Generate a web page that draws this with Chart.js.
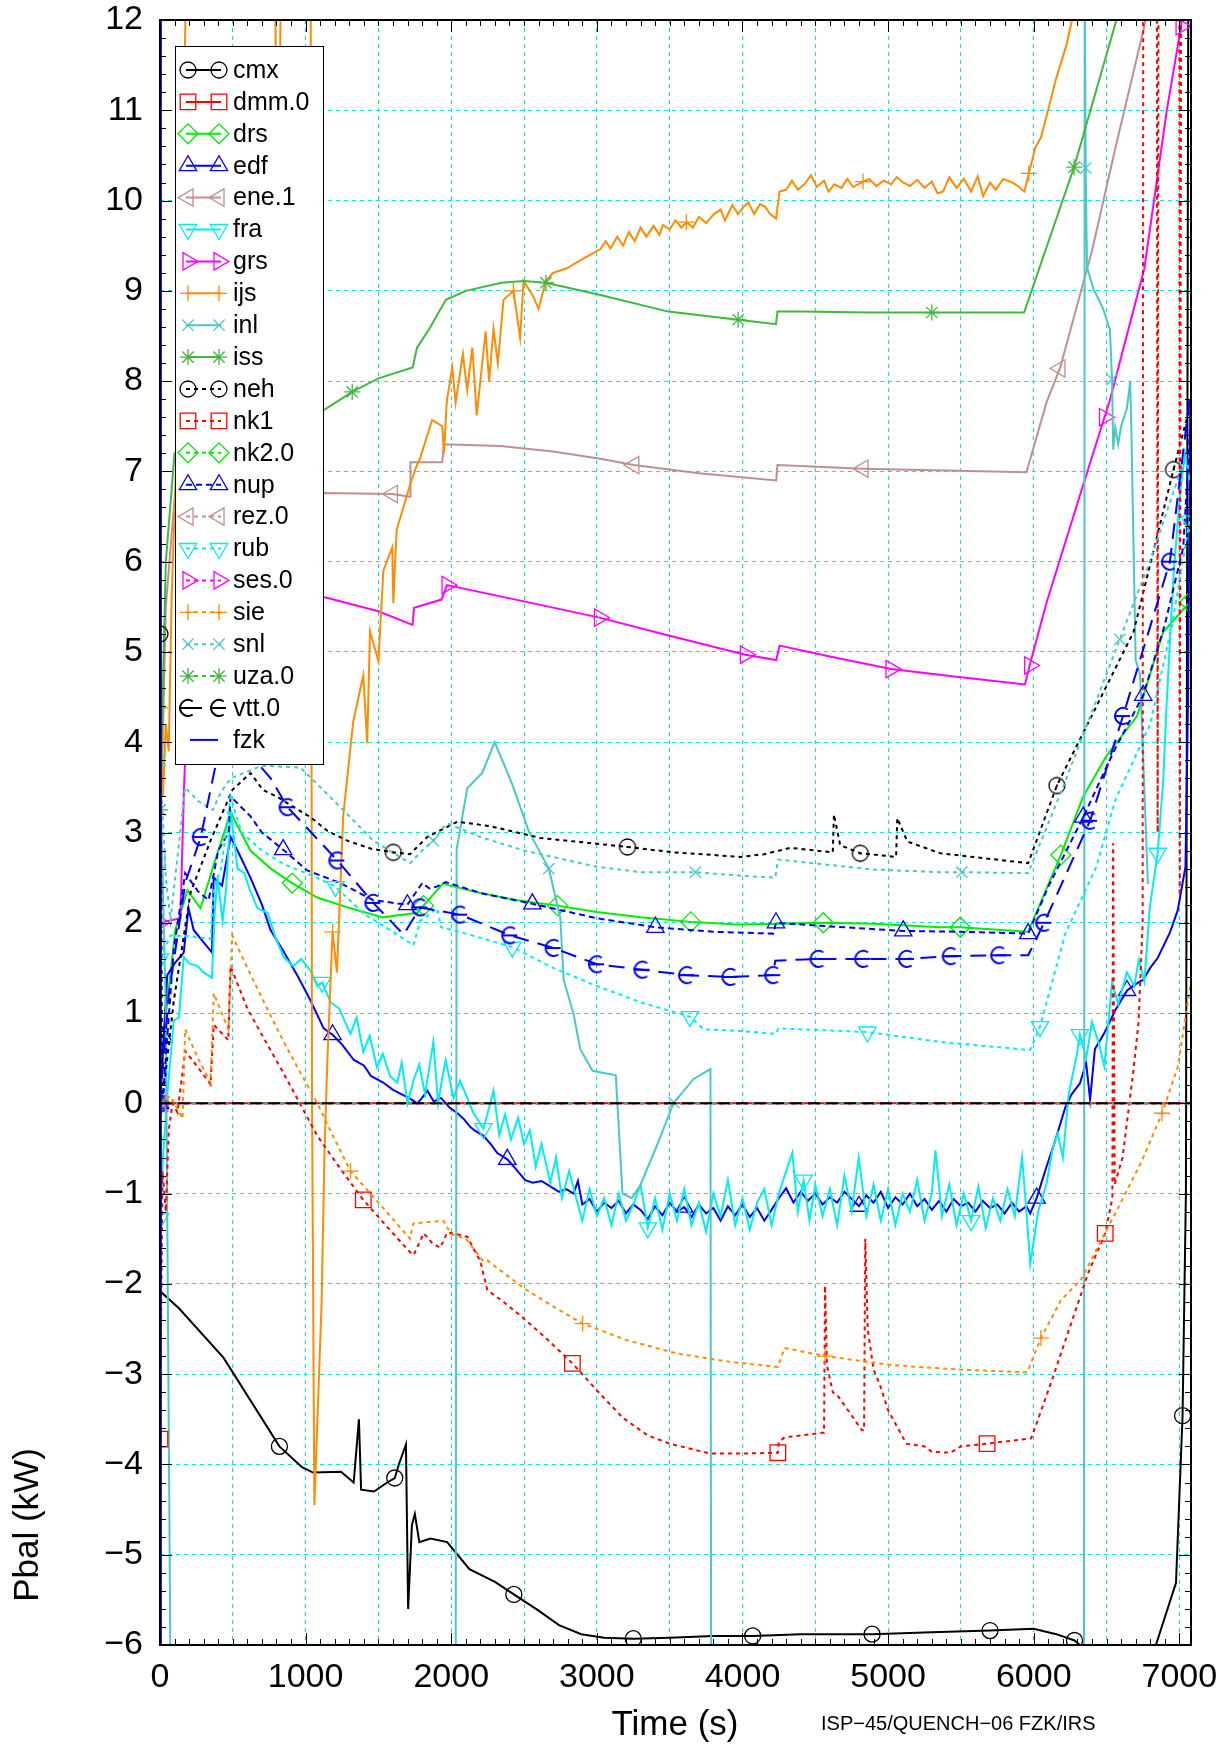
<!DOCTYPE html>
<html>
<head>
<meta charset="utf-8">
<script src="https://cdn.jsdelivr.net/npm/chart.js@4.4.1/dist/chart.umd.min.js"></script>
<style>
    html, body { margin: 0; padding: 0; background: #fff; }
    #area { width: 1220px; height: 1746px; }
</style>
</head>
<body>
<div id="area"><canvas id="grafico"></canvas></div>
<script>
// Pbal (kW) x Time (s) - cada código em um array [tempo, potência]
const cmx = [[0,-2.08],[130,-2.27],[437,-2.82],[820,-3.8],[975,-4.03],[1051,-4.09],[1243,-4.08],[1330,-4.2],[1366,-3.5],[1381,-4.28],[1470,-4.3],[1560,-4.2],[1612,-4.15],[1640,-4.0],[1689,-3.78],[1704,-5.6],[1730,-4.67],[1750,-4.55],[1781,-4.86],[1857,-4.82],[1972,-4.86],[2125,-5.16],[2300,-5.3],[2430,-5.44],[2600,-5.62],[2740,-5.78],[2893,-5.88],[3050,-5.92],[3250,-5.93],[3500,-5.92],[3800,-5.9],[4070,-5.9],[4400,-5.88],[4890,-5.88],[5300,-5.86],[5700,-5.84],[6000,-5.82],[6155,-5.88],[6280,-5.95],[6354,-6.05],[6800,-6.2],[6833,-6.03],[6977,-5.31],[7022,-3.46],[7045,-1],[7062,13]];
const cmxMarcas = [820,1612,2430,3250,4070,4890,5700,6280,7022];

const dmm0 = [[0,0],[7080,0]];
const dmm0Marcas = [0];

const drs = [[0,0],[36,0.92],[105,1.92],[189,2.36],[278,2.16],[380,2.7],[485,3.22],[621,2.8],[760,2.6],[908,2.44],[1080,2.28],[1308,2.16],[1533,2.06],[1766,2.11],[1810,2.19],[1946,2.44],[1973,2.42],[2200,2.33],[2450,2.25],[2730,2.19],[3000,2.12],[3300,2.06],[3645,2.01],[3965,1.98],[4250,1.99],[4555,2.0],[4900,1.99],[5359,1.95],[5496,1.95],[5962,1.9],[6186,2.75],[6340,3.4],[6500,3.85],[6710,4.29],[6889,5.22],[7070,5.55]];
const drsMarcas = [0,908,1810,2730,3645,4555,5496,6186,7070];

const edf = [[0,0],[25,0.73],[50,1.42],[100,1.55],[163,1.67],[196,2.16],[231,1.92],[357,1.67],[369,2.5],[426,2.41],[485,2.95],[532,2.8],[621,2.5],[700,2.2],[759,1.92],[850,1.68],[942,1.42],[1030,1.15],[1124,0.83],[1185,0.76],[1251,0.65],[1331,0.48],[1400,0.42],[1450,0.3],[1533,0.23],[1600,0.15],[1671,0.09],[1720,0.05],[1766,0.0],[1800,0.06],[1836,0.14],[1880,0.02],[1930,0.06],[1990,-0.05],[2043,-0.11],[2090,-0.18],[2130,-0.26],[2160,-0.3],[2221,-0.36],[2270,-0.45],[2316,-0.55],[2385,-0.62],[2440,-0.72],[2508,-0.85],[2560,-0.88],[2620,-0.86],[2680,-0.92],[2740,-0.98],[2790,-0.95],[2840,-1.0],[2870,-0.86],
    [2900,-1.12],[2950,-1.06],[3000,-1.2],[3050,-1.1],[3100,-1.16],[3150,-1.08],[3200,-1.22],[3250,-1.12],[3300,-1.18],[3350,-1.28],[3400,-1.14],[3450,-1.24],[3500,-1.1],[3550,-1.2],[3600,-1.15],[3650,-1.26],[3700,-1.12],[3750,-1.22],[3800,-1.16],[3850,-1.3],[3900,-1.14],[3950,-1.24],[4000,-1.12],[4050,-1.26],[4100,-1.16],[4150,-1.3],[4200,-1.18],[4250,-1.05],[4300,-0.94],[4350,-1.1],[4400,-0.98],[4450,-1.08],[4500,-1.0],[4550,-1.12],[4600,-1.04],[4650,-1.1],[4700,-0.98],[4750,-1.06],[4800,-1.14],[4850,-1.02],[4900,-1.1],[4950,-0.98],[5000,-1.16],[5050,-1.04],[5100,-1.12],[5150,-1.0],[5200,-1.14],[5250,-1.06],[5300,-1.18],[5350,-1.08],[5400,-1.2],[5450,-1.06],[5500,-1.14],[5550,-1.1],[5600,-1.2],[5650,-1.08],[5700,-1.16],[5750,-1.12],[5800,-1.22],[5850,-1.1],[5900,-1.2],[5950,-1.14],
    [5976,-1.22],[6020,-1.05],[6088,-0.7],[6140,-0.45],[6218,-0.04],[6260,0.1],[6317,0.22],[6360,0.45],[6387,0.04],[6420,0.6],[6485,0.78],[6560,1.03],[6641,1.25],[6700,1.32],[6752,1.37],[6800,1.5],[6851,1.61],[6935,1.89],[6989,2.14],[7042,2.62],[7060,4.5],[7075,7.8]];
const edfMarcas = [25,1185,2385,3600,4800,6020,6641];

const ene1 = [[0,2.7],[40,5.5],[100,6.7],[600,6.75],[1121,6.76],[1596,6.75],[1717,6.72],[1720,7.1],[1938,7.1],[1950,7.3],[2338,7.28],[2700,7.22],[3023,7.14],[3254,7.07],[3700,6.98],[4232,6.9],[4240,7.07],[4828,7.03],[5400,7.01],[5950,6.99],[6089,7.77],[6180,8.14],[6401,9.45],[6562,10.59],[6760,11.93],[6780,12.2]];
const ene1Marcas = [0,1596,3254,4828,6180];

const fra = [[0,-1.28],[20,-0.6],[52,0.13],[95,0.92],[130,0.95],[163,1.62],[200,1.55],[258,1.52],[300,1.45],[357,1.39],[375,2.1],[395,2.5],[430,2.02],[455,2.4],[485,3.25],[532,2.6],[580,2.55],[620,2.35],[670,2.16],[739,2.11],[790,1.85],[850,1.62],[915,1.52],[970,1.6],[1033,1.47],[1080,1.3],[1114,1.34],[1171,1.12],[1230,1.05],[1308,0.77],[1350,0.95],[1396,0.57],[1440,0.75],[1490,0.4],[1530,0.55],[1580,0.3],[1630,0.23],[1660,0.45],[1700,0.0],[1740,0.25],[1780,0.43],[1820,0.1],[1877,0.68],[1910,0.0],[1940,0.3],[1962,0.48],[2015,0.06],[2060,0.25],[2100,0.1],[2150,-0.1],[2221,-0.28],[2260,-0.05],[2290,0.14],[2330,-0.35],[2370,-0.12],[2410,-0.4],[2459,-0.16],[2500,-0.45],[2540,-0.3],[2580,-0.7],[2620,-0.45],[2680,-0.88],[2720,-0.6],[2760,-1.05],[2810,-0.75],[2863,-1.08],
    [2900,-1.3],[2950,-0.95],[3000,-1.25],[3050,-1.05],[3100,-1.35],[3150,-1.0],[3200,-1.3],[3250,-1.12],[3300,-0.9],[3350,-1.38],[3400,-1.05],[3450,-1.4],[3500,-1.0],[3550,-1.3],[3600,-0.95],[3650,-1.35],[3700,-1.1],[3750,-1.42],[3800,-1.0],[3850,-1.25],[3900,-0.85],[3950,-1.35],[4000,-1.05],[4050,-1.4],[4100,-1.1],[4150,-0.95],[4200,-1.35],[4250,-1.0],[4300,-0.75],[4342,-0.55],[4380,-1.2],[4420,-0.85],[4460,-1.3],[4500,-0.9],[4550,-1.25],[4600,-0.95],[4650,-1.35],[4700,-0.8],[4750,-1.2],[4798,-0.6],[4850,-1.25],[4900,-0.9],[4950,-1.3],[5000,-0.95],[5050,-1.35],[5100,-1.0],[5150,-1.2],[5200,-0.85],[5250,-1.3],[5300,-1.0],[5325,-0.52],[5370,-1.25],[5420,-0.9],[5470,-1.35],[5520,-1.0],[5570,-1.3],[5620,-0.92],[5670,-1.38],[5720,-1.05],[5770,-1.3],[5820,-0.95],[5870,-1.25],[5920,-0.6],[5950,-1.2],
    [5976,-1.78],[6030,-1.2],[6088,-0.89],[6130,-0.5],[6165,-0.33],[6200,-0.6],[6240,0.1],[6297,0.55],[6317,0.76],[6360,0.5],[6400,0.9],[6450,0.65],[6485,0.41],[6538,1.34],[6580,1.1],[6640,1.45],[6690,1.3],[6722,1.59],[6760,1.35],[6797,2.17],[6851,2.77],[6890,3.6],[6913,4.44],[6960,5.85],[7006,6.78],[7040,7.2],[7070,6.9]];
const fraMarcas = [0,1114,2221,3330,4440,5570,6317,6851];

const grs = [[0,2.0],[140,2.05],[165,3.5],[185,4.3],[215,5.5],[260,5.85],[600,5.75],[1146,5.6],[1500,5.45],[1734,5.3],[1745,5.49],[1933,5.58],[1971,5.74],[2500,5.56],[3018,5.38],[3500,5.18],[4020,4.97],[4232,4.91],[4255,5.07],[4600,4.95],[5020,4.81],[5500,4.72],[5940,4.64],[5972,4.85],[6089,5.55],[6326,6.78],[6486,7.6],[6520,7.77],[6760,9.25],[6913,10.99],[7012,11.93],[7040,12.5]];
const grsMarcas = [0,1971,3018,4020,5020,5972,6486,7012];

const ijs = [[0,4.38],[20,3.4],[40,4.2],[60,3.9],[80,5.6],[130,8],[180,12.5],[790,12.5],[810,9],[830,12.5],[1035,12.5],[1044,0],[1060,-4.45],[1110,-2.2],[1130,-0.5],[1150,0.5],[1185,1.9],[1215,1.45],[1258,3.18],[1327,4.23],[1396,4.74],[1423,3.99],[1442,5.23],[1500,4.9],[1534,5.9],[1595,6.16],[1602,5.54],[1625,6.35],[1717,6.85],[1755,7.03],[1785,7.14],[1869,7.57],[1938,7.5],[1950,7.2],[1969,7.77],[2007,8.15],[2030,7.76],[2080,8.3],[2110,7.9],[2145,8.37],[2175,7.62],[2236,8.55],[2260,8.0],[2290,8.58],[2320,8.2],[2359,8.9],[2427,9.0],[2473,8.48],[2496,9.11],[2560,8.95],[2600,8.8],[2649,9.11],[2700,9.2],[2794,9.25],[2900,9.35],
    [3023,9.46],[3060,9.55],[3094,9.47],[3140,9.6],[3180,9.5],[3220,9.65],[3260,9.55],[3300,9.7],[3340,9.6],[3390,9.72],[3430,9.62],[3453,9.73],[3500,9.68],[3540,9.78],[3580,9.7],[3615,9.76],[3660,9.7],[3700,9.82],[3750,9.75],[3804,9.85],[3850,9.9],[3880,9.78],[3930,9.95],[3970,9.85],[4003,9.92],[4040,9.98],[4080,9.85],[4120,9.96],[4156,9.93],[4190,9.85],[4230,9.8],[4255,10.1],[4300,10.12],[4340,10.22],[4380,10.12],[4431,10.19],[4470,10.28],[4510,10.15],[4560,10.22],[4591,10.1],[4630,10.18],[4680,10.14],[4720,10.24],[4760,10.15],[4828,10.21],[4870,10.24],[4920,10.16],[4970,10.22],[5020,10.18],[5060,10.26],[5103,10.2],[5150,10.16],[5200,10.23],[5250,10.14],[5300,10.21],[5340,10.08],[5378,10.1],[5420,10.26],[5470,10.14],[5520,10.24],[5570,10.1],[5615,10.27],[5653,10.05],[5700,10.2],[5740,10.12],[5790,10.24],[5852,10.2],[5900,10.15],[5936,10.1],[5966,10.3],[6012,10.59],[6050,10.7],[6089,10.94],[6150,11.33],[6226,11.73],[6290,12.2]];
const ijsMarcas = [0,1185,2427,3615,4828,5966];

const inl = [[0,3.8],[40,1.0],[75,-7],[2030,-7],[2037,2.81],[2110,3.49],[2213,3.66],[2298,4.0],[2420,3.53],[2531,3.02],[2610,2.78],[2670,2.6],[2749,2.05],[2772,1.37],[2840,0.99],[2886,0.6],[2970,0.36],[3130,0.31],[3176,-1.0],[3240,-1.05],[3298,-0.91],[3414,-0.46],[3529,0.01],[3665,0.27],[3780,0.38],[3785,-7],[6345,-7],[6350,12.5],[6357,10.36],[6366,9.26],[6408,9.03],[6477,8.8],[6523,8.57],[6538,8.02],[6546,7.24],[6560,7.49],[6580,7.3],[6600,7.5],[6640,7.7],[6662,7.99],[6670,7.5],[6700,4.91],[6730,4.75],[6784,2.43]];
const inlMarcas = [0,2670,3529,6357,6538];

const iss = [[0,3.25],[40,6.0],[100,7.2],[500,7.4],[1125,7.68],[1320,7.88],[1500,8.03],[1735,8.15],[1765,8.37],[1850,8.58],[1963,8.9],[2100,9.0],[2345,9.09],[2497,9.11],[2650,9.09],[3032,8.95],[3490,8.77],[3970,8.68],[4230,8.63],[4240,8.77],[4407,8.77],[4866,8.76],[5300,8.76],[5934,8.76],[6277,10.37],[6568,12.0],[6600,12.4]];
const issMarcas = [0,1320,2650,3970,5300,6277];

const neh = [[0,5.2],[15,0],[95,1.14],[209,2.33],[347,2.91],[496,3.47],[621,3.66],[708,3.47],[800,3.4],[900,3.3],[1033,3.17],[1148,3.02],[1286,2.91],[1450,2.82],[1602,2.78],[1717,2.76],[1835,2.95],[2043,3.12],[2268,3.07],[2611,2.94],[3210,2.84],[3528,2.78],[3986,2.73],[4150,2.76],[4330,2.83],[4620,2.78],[4628,3.2],[4671,2.86],[4809,2.77],[5055,2.73],[5063,3.16],[5132,2.9],[5358,2.77],[5962,2.66],[6159,3.52],[6685,5.22],[6960,7.02],[7070,7.7]];
const nehMarcas = [0,1602,3210,4809,6159,6960];

const nk1 = [[0,-3.72],[10,-2.0],[17,-0.75],[40,-1.2],[60,-0.3],[86,0],[120,-0.1],[173,0.58],[260,0.4],[347,0.21],[369,0.87],[469,0.7],[484,1.52],[600,1.05],[720,0.7],[850,0.33],[960,0.0],[1080,-0.36],[1250,-0.75],[1396,-1.07],[1550,-1.35],[1717,-1.65],[1742,-1.68],[1811,-1.44],[1870,-1.55],[1924,-1.6],[1973,-1.43],[2040,-1.45],[2111,-1.48],[2200,-1.75],[2248,-2.07],[2360,-2.2],[2481,-2.36],[2650,-2.6],[2832,-2.88],[3000,-3.18],[3176,-3.48],[3350,-3.68],[3501,-3.77],[3780,-3.88],[4000,-3.88],[4243,-3.87],[4250,-3.75],[4289,-3.7],[4541,-3.65],[4560,-3.65],[4567,-2.02],[4580,-2.9],[4620,-3.2],[4659,-3.25],[4820,-3.62],[4835,-3.62],[4843,-1.5],[4860,-2.5],[4900,-2.95],[4942,-3.11],[5000,-3.4],[5125,-3.77],[5250,-3.8],[5300,-3.86],[5427,-3.87],[5500,-3.8],[5680,-3.77],[5983,-3.71],[6118,-3.1],[6374,-1.88],[6491,-1.44],[6540,-1.05],[6545,2.88],[6556,-0.9],[6610,-0.6],[6680,0.3],[6720,0.9],[6748,2.0],[6752,13],[6845,13],[6851,3.0],[6857,13],[7000,13],[7003,2.3],[7012,13]];
const nk1Marcas = [0,1396,2832,4243,5680,6491];

const nk20 = [[0,0],[7080,0]];
const nk20Marcas = [0];

const nup = [[0,0],[20,0.07],[94,1.7],[173,2.55],[260,2.35],[334,2.25],[400,2.8],[471,3.0],[484,3.4],[621,3.18],[700,3.0],[846,2.81],[1011,2.58],[1239,2.44],[1465,2.25],[1699,2.2],[1801,2.44],[1850,2.38],[1900,2.4],[1962,2.45],[2200,2.33],[2557,2.21],[3000,2.05],[3402,1.95],[3800,1.9],[4211,1.88],[4230,2.0],[4600,1.96],[5104,1.91],[5500,1.9],[5962,1.88],[6100,2.4],[6340,3.17],[6550,3.9],[6752,4.52],[6900,5.3],[7027,6.16],[7075,7.5]];
const nupMarcas = [0,846,1699,2557,3402,4230,5104,5962,6340,6752];

const rez0 = [[0,0],[7080,0]];
const rez0Marcas = [0];

const rub = [[0,1.6],[72,1.86],[200,1.85],[347,1.82],[370,2.4],[420,2.6],[484,3.4],[560,3.0],[700,2.8],[850,2.65],[1033,2.53],[1206,2.4],[1400,2.1],[1600,1.9],[1740,1.75],[1787,2.02],[1905,2.16],[1930,1.95],[2100,1.88],[2420,1.73],[2700,1.5],[3000,1.3],[3300,1.12],[3639,0.96],[3734,0.82],[4000,0.8],[4230,0.77],[4246,0.83],[4858,0.79],[5358,0.68],[5975,0.59],[6043,0.85],[6217,1.88],[6430,2.62],[6560,3.36],[6800,4.2],[6950,5.3],[7070,6.45]];
const rubMarcas = [0,1206,2420,3639,4858,6043,7070];

const ses0 = [[0,0],[7080,0]];
const ses0Marcas = [0];

const sie = [[0,0],[40,0.05],[72,0.08],[155,-0.17],[173,0.82],[260,0.5],[347,0.23],[369,1.22],[469,0.82],[496,1.86],[600,1.5],[720,1.1],[850,0.68],[960,0.35],[1080,0],[1200,-0.4],[1308,-0.75],[1500,-1.1],[1717,-1.5],[1740,-1.33],[1946,-1.3],[2000,-1.45],[2100,-1.5],[2221,-1.75],[2248,-1.74],[2500,-2.05],[2700,-2.25],[2902,-2.44],[3200,-2.62],[3545,-2.77],[3900,-2.86],[4243,-2.92],[4289,-2.71],[4567,-2.8],[5029,-2.9],[5500,-2.95],[5955,-2.98],[6049,-2.6],[6187,-2.18],[6326,-1.95],[6485,-1.45],[6560,-1.22],[6745,-0.63],[6881,-0.11],[6989,0.4],[7080,1.35]];
const sieMarcas = [0,1308,2902,4567,6049,6881];

const snl = [[0,3.8],[40,2.5],[72,2.03],[173,3.5],[260,3.35],[362,3.25],[420,3.45],[485,3.6],[700,3.74],[964,3.72],[1239,3.28],[1465,2.91],[1717,2.66],[1800,2.8],[1877,2.91],[1946,3.06],[1973,3.1],[2200,2.95],[2500,2.8],[3000,2.62],[3298,2.56],[3677,2.56],[4000,2.52],[4225,2.5],[4245,2.7],[4898,2.59],[5358,2.56],[5506,2.56],[5962,2.55],[6200,3.5],[6591,5.14],[6797,6.0],[7050,7.2]];
const snlMarcas = [0,1877,3677,5506,6591];

const uza0 = [[0,0],[7080,0]];
const uza0Marcas = [0];

const vtt0 = [[0,0],[60,1.2],[175,2.45],[280,2.95],[380,3.73],[485,4.1],[600,3.9],[760,3.6],[876,3.28],[1218,2.69],[1465,2.22],[1673,1.87],[1787,2.17],[2061,2.09],[2405,1.86],[2703,1.72],[3001,1.54],[3313,1.48],[3619,1.42],[3917,1.4],[4211,1.42],[4225,1.58],[4522,1.6],[4829,1.6],[5129,1.6],[5430,1.63],[5763,1.64],[5962,1.64],[6072,2.0],[6387,3.13],[6613,4.29],[6935,6.0],[7070,7.8]];
const vtt0Marcas = [0,280,876,1218,1465,1787,2061,2405,2703,3001,3313,3619,3917,4211,4522,4829,5129,5430,5763,6072,6387,6613,6935];

const fzk = [[2,-6.5],[6,12.5]];
const fzkMarcas = [];

// grade a cada 500 s, rótulo a cada 1000 s
const gradeX = [0,500,1000,1500,2000,2500,3000,3500,4000,4500,5000,5500,6000,6500,7000];

const PRETO = '#000000', VERMELHO = '#ff0000', LIMA = '#00ee00', AZUL = '#0000ff', ROSADO = '#c09090',
      CIANO = '#00eeee', MAGENTA = '#ff00ff', LARANJA = '#ff8c00', TURQUESA = '#48c8c8', VERDE = '#40b840';
const CHEIA = [], PONTOS = [4, 4], TRACOS = [16, 9];
const FONTE = "'Liberation Sans', Arial, Helvetica, sans-serif";

// marcadores desenhados à mão (círculo com ponto e círculo interrompido)
function circuloPonto(cor){
    const c = document.createElement('canvas');
    c.width = 20; c.height = 20;
    const g = c.getContext('2d');
    g.strokeStyle = cor; g.lineWidth = 1.3;
    g.beginPath(); g.arc(10, 10, 8, 0, 2 * Math.PI); g.stroke();
    g.fillStyle = cor; g.fillRect(9, 9, 2, 2);
    return c;
}

function circuloAberto(cor){
    const c = document.createElement('canvas');
    c.width = 22; c.height = 22;
    const g = c.getContext('2d');
    g.strokeStyle = cor; g.lineWidth = 2;
    g.beginPath(); g.arc(11, 11, 8, 0.3 * Math.PI, 1.7 * Math.PI); g.stroke();
    g.beginPath(); g.moveTo(4, 11); g.lineTo(18, 11); g.stroke();
    return c;
}

// nome, dados, marcas, cor, traço, marcador, rotação, cor da legenda
const series = [
    ['cmx', cmx, cmxMarcas, PRETO, CHEIA, 'circle', 0],
    ['dmm.0', dmm0, dmm0Marcas, VERMELHO, CHEIA, 'rect', 0],
    ['drs', drs, drsMarcas, LIMA, CHEIA, 'rectRot', 0],
    ['edf', edf, edfMarcas, AZUL, CHEIA, 'triangle', 0],
    ['ene.1', ene1, ene1Marcas, ROSADO, CHEIA, 'triangle', 270],
    ['fra', fra, fraMarcas, CIANO, CHEIA, 'triangle', 180],
    ['grs', grs, grsMarcas, MAGENTA, CHEIA, 'triangle', 90],
    ['ijs', ijs, ijsMarcas, LARANJA, CHEIA, 'cross', 0],
    ['inl', inl, inlMarcas, TURQUESA, CHEIA, 'crossRot', 0],
    ['iss', iss, issMarcas, VERDE, CHEIA, 'star', 0],
    ['neh', neh, nehMarcas, PRETO, PONTOS, circuloPonto(PRETO), 0],
    ['nk1', nk1, nk1Marcas, VERMELHO, PONTOS, 'rect', 0],
    ['nk2.0', nk20, nk20Marcas, LIMA, PONTOS, 'rectRot', 0],
    ['nup', nup, nupMarcas, AZUL, [6, 4], 'triangle', 0],
    ['rez.0', rez0, rez0Marcas, ROSADO, PONTOS, 'triangle', 270],
    ['rub', rub, rubMarcas, CIANO, PONTOS, 'triangle', 180],
    ['ses.0', ses0, ses0Marcas, MAGENTA, PONTOS, 'triangle', 90],
    ['sie', sie, sieMarcas, LARANJA, PONTOS, 'cross', 0],
    ['snl', snl, snlMarcas, TURQUESA, PONTOS, 'crossRot', 0],
    ['uza.0', uza0, uza0Marcas, VERDE, PONTOS, 'star', 0],
    ['vtt.0', vtt0, vtt0Marcas, AZUL, TRACOS, circuloAberto(AZUL), 0, PRETO],
    ['fzk', fzk, fzkMarcas, AZUL, CHEIA, false, 0]
];

function raio(estilo){
    if(estilo === 'rect') return 11;
    if(estilo === 'triangle' || estilo === 'rectRot') return 10;
    return 8;
}

// índice do ponto mais próximo de cada marca
function indicesMarcas(pontos, marcas){
    const idx = new Set();
    marcas.forEach(function(m){
        let melhor = 0;
        pontos.forEach(function(p, i){
            if(Math.abs(p[0] - m) < Math.abs(pontos[melhor][0] - m)) melhor = i;
        });
        idx.add(melhor);
    });
    return idx;
}

const datasets = series.map(function(s, i){
    const idx = indicesMarcas(s[1], s[2]);
    const r = raio(s[5]);
    return {
        label: s[0],
        data: s[1].map(p => ({x: p[0], y: p[1]})),
        borderColor: s[3],
        borderWidth: 2,
        borderDash: s[4],
        tension: 0,
        fill: false,
        pointStyle: s[5],
        pointRotation: s[6],
        pointBorderColor: s[3],
        pointBackgroundColor: 'rgba(0,0,0,0)',
        pointBorderWidth: 1.3,
        pointRadius: ctx => idx.has(ctx.dataIndex) ? r : 0,
        pointHoverRadius: 0,
        order: series.length - i
    };
});

function desenharMarcador(ctx, estilo, rot, r, x, y){
    if(!estilo) return;
    if(typeof estilo === 'object'){
        ctx.drawImage(estilo, x - estilo.width / 2, y - estilo.height / 2);
        return;
    }
    Chart.helpers.drawPoint(ctx, {pointStyle: estilo, rotation: rot, radius: r, borderWidth: 1.3}, x, y);
}

function desenharLegenda(chart){
    const ctx = chart.ctx;
    const caixa = {x: 175, y: 46, w: 148, h: 718};
    ctx.save();
    ctx.fillStyle = '#fff';
    ctx.fillRect(caixa.x, caixa.y, caixa.w, caixa.h);
    ctx.strokeStyle = '#000';
    ctx.lineWidth = 1;
    ctx.strokeRect(caixa.x + 0.5, caixa.y + 0.5, caixa.w, caixa.h);

    ctx.font = '25px ' + FONTE;
    ctx.textBaseline = 'middle';
    series.forEach(function(s, i){
        const y = 70 + i * 31.9;
        const cor = s[7] || s[3];
        let estilo = s[5];
        if(s[0] == 'vtt.0') estilo = circuloAberto(PRETO);

        ctx.strokeStyle = cor;
        ctx.lineWidth = 2;
        ctx.setLineDash(s[4]);
        ctx.beginPath();
        ctx.moveTo(s[5] ? 186 : 190, y);
        ctx.lineTo(s[5] ? 221 : 218, y);
        ctx.stroke();
        ctx.setLineDash([]);

        ctx.fillStyle = 'rgba(0,0,0,0)';
        ctx.lineWidth = 1.3;
        desenharMarcador(ctx, estilo, s[6], raio(s[5]), 188, y);
        desenharMarcador(ctx, estilo, s[6], raio(s[5]), 219, y);

        ctx.fillStyle = '#000';
        ctx.fillText(s[0], 233, y + 1);
    });
    ctx.restore();
}

const moldura = {
    id: 'moldura',
    afterDatasetsDraw(chart){
        const {ctx, chartArea: a, scales: {x, y}} = chart;
        ctx.save();

        // eixo zero tracejado
        const y0 = y.getPixelForValue(0);
        ctx.strokeStyle = '#000';
        ctx.lineWidth = 2;
        ctx.setLineDash([12, 6]);
        ctx.beginPath();
        ctx.moveTo(a.left, y0);
        ctx.lineTo(a.right, y0);
        ctx.stroke();
        ctx.setLineDash([]);
        ctx.restore();

        desenharLegenda(chart);

        ctx.save();
        ctx.strokeStyle = '#000';
        ctx.lineWidth = 2;
        ctx.strokeRect(a.left, a.top, a.right - a.left, a.bottom - a.top);

        // marcas dos eixos para dentro, nos quatro lados
        ctx.lineWidth = 1;
        ctx.beginPath();
        for(let v = 0; v <= x.max; v += 100){
            const px = Math.round(x.getPixelForValue(v)) + 0.5;
            const t = v % 1000 === 0 ? 12 : 6;
            ctx.moveTo(px, a.bottom); ctx.lineTo(px, a.bottom - t);
            ctx.moveTo(px, a.top); ctx.lineTo(px, a.top + t);
        }
        for(let i = 0; i <= 90; i++){
            const py = Math.round(y.getPixelForValue(y.min + i * 0.2)) + 0.5;
            const t = i % 5 === 0 ? 12 : 6;
            ctx.moveTo(a.left, py); ctx.lineTo(a.left + t, py);
            ctx.moveTo(a.right, py); ctx.lineTo(a.right - t, py);
        }
        ctx.stroke();
        ctx.restore();
    },
    afterDraw(chart){
        const ctx = chart.ctx;
        ctx.save();
        ctx.fillStyle = '#000';
        ctx.textBaseline = 'middle';
        ctx.textAlign = 'center';
        ctx.font = '35px ' + FONTE;
        ctx.fillText('Time (s)', 675, 1725);

        ctx.textAlign = 'left';
        ctx.font = '20px ' + FONTE;
        ctx.fillText('ISP\u221245/QUENCH\u221206 FZK/IRS', 821, 1724);

        ctx.translate(28, 1525);
        ctx.rotate(-Math.PI / 2);
        ctx.textAlign = 'center';
        ctx.font = '35px ' + FONTE;
        ctx.fillText('Pbal (kW)', 0, 0);
        ctx.restore();
    }
};

new Chart(document.getElementById('grafico'), {
    type: 'line',
    data: { datasets: datasets },
    options: {
        responsive: true,
        maintainAspectRatio: false,
        animation: false,
        events: [],
        layout: { padding: { left: 0, right: 29, top: 20, bottom: 0 } },
        plugins: { legend: { display: false }, tooltip: { enabled: false } },
        scales: {
            x: {
                type: 'linear',
                min: 0,
                max: 7080,
                afterFit: s => { s.height = 101; s.paddingLeft = 0; s.paddingRight = 0; },
                afterBuildTicks: s => { s.ticks = gradeX.map(v => ({value: v})); },
                grid: { color: '#00e8e8', lineWidth: 1, drawTicks: false },
                border: { display: false, dash: [4, 4] },
                ticks: {
                    autoSkip: false,
                    maxRotation: 0,
                    padding: 12,
                    color: '#000',
                    font: { family: FONTE, size: 34 },
                    callback: (v, i) => gradeX[i] % 1000 === 0 ? String(gradeX[i]) : ''
                }
            },
            y: {
                type: 'linear',
                min: -6,
                max: 12,
                afterFit: s => { s.width = 160; s.paddingTop = 0; s.paddingBottom = 0; },
                grid: { color: '#00e8e8', lineWidth: 1, drawTicks: false },
                border: { display: false, dash: [4, 4] },
                ticks: {
                    stepSize: 1,
                    padding: 17,
                    color: '#000',
                    font: { family: FONTE, size: 34 },
                    callback: v => String(v).replace('-', '\u2212')
                }
            }
        }
    },
    plugins: [moldura]
});
</script>
</body>
</html>
